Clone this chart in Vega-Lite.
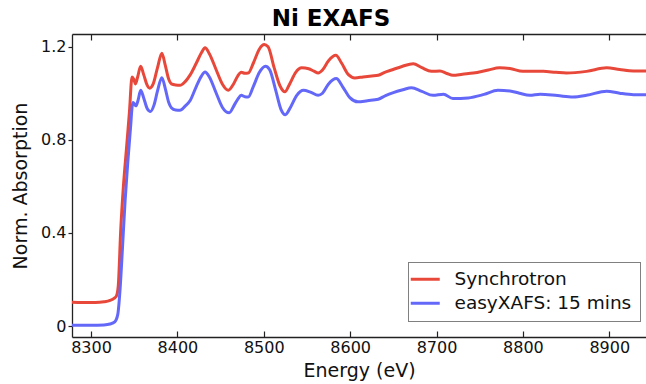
{
  "$schema": "https://vega.github.io/schema/vega-lite/v6.json",
  "width": 574,
  "height": 303,
  "autosize": {"type": "none"},
  "padding": {"left": 72, "top": 34, "right": 0, "bottom": 47},
  "background": "white",
  "title": {
    "text": "Ni EXAFS",
    "font": "DejaVu Sans",
    "fontSize": 23,
    "fontWeight": "bold",
    "color": "#000000",
    "anchor": "middle",
    "dx": -28,
    "offset": 2
  },
  "config": {
    "view": {"stroke": null},
    "font": "DejaVu Sans",
    "axis": {
      "grid": false,
      "domainColor": "#222222",
      "tickColor": "#222222",
      "domainWidth": 1.3,
      "tickWidth": 1.2,
      "labelColor": "#111111",
      "titleColor": "#111111",
      "labelFont": "DejaVu Sans",
      "titleFont": "DejaVu Sans",
      "labelFontSize": 16,
      "titleFontSize": 19,
      "titleFontWeight": "normal"
    },
    "legend": {
      "strokeColor": "#000000",
      "strokeDash": [1, 1],
      "strokeWidth": 1,
      "fillColor": "white",
      "padding": 8,
      "symbolStrokeWidth": 3,
      "labelFont": "DejaVu Sans",
      "labelFontSize": 18.5,
      "labelColor": "#111111",
      "labelLimit": 400,
      "rowPadding": 5
    }
  },
  "data": {
    "values": [
      {"series": "Synchrotron", "energy": 8278, "absorption": 0.102},
      {"series": "Synchrotron", "energy": 8290, "absorption": 0.101},
      {"series": "Synchrotron", "energy": 8305, "absorption": 0.101},
      {"series": "Synchrotron", "energy": 8315, "absorption": 0.104},
      {"series": "Synchrotron", "energy": 8322, "absorption": 0.11},
      {"series": "Synchrotron", "energy": 8327, "absorption": 0.12},
      {"series": "Synchrotron", "energy": 8329.5, "absorption": 0.13},
      {"series": "Synchrotron", "energy": 8331.5, "absorption": 0.17},
      {"series": "Synchrotron", "energy": 8334.5, "absorption": 0.42},
      {"series": "Synchrotron", "energy": 8337.5, "absorption": 0.6},
      {"series": "Synchrotron", "energy": 8341, "absorption": 0.76},
      {"series": "Synchrotron", "energy": 8344.5, "absorption": 0.92},
      {"series": "Synchrotron", "energy": 8347.5, "absorption": 1.07},
      {"series": "Synchrotron", "energy": 8349.5, "absorption": 1.06},
      {"series": "Synchrotron", "energy": 8351.5, "absorption": 1.04},
      {"series": "Synchrotron", "energy": 8354, "absorption": 1.07},
      {"series": "Synchrotron", "energy": 8357.5, "absorption": 1.116},
      {"series": "Synchrotron", "energy": 8361, "absorption": 1.08},
      {"series": "Synchrotron", "energy": 8365, "absorption": 1.035},
      {"series": "Synchrotron", "energy": 8368, "absorption": 1.022},
      {"series": "Synchrotron", "energy": 8372, "absorption": 1.04},
      {"series": "Synchrotron", "energy": 8377, "absorption": 1.11},
      {"series": "Synchrotron", "energy": 8382, "absorption": 1.172},
      {"series": "Synchrotron", "energy": 8386, "absorption": 1.12},
      {"series": "Synchrotron", "energy": 8390, "absorption": 1.06},
      {"series": "Synchrotron", "energy": 8393, "absorption": 1.04},
      {"series": "Synchrotron", "energy": 8398, "absorption": 1.035},
      {"series": "Synchrotron", "energy": 8403, "absorption": 1.034},
      {"series": "Synchrotron", "energy": 8409, "absorption": 1.05},
      {"series": "Synchrotron", "energy": 8415, "absorption": 1.08},
      {"series": "Synchrotron", "energy": 8422, "absorption": 1.13},
      {"series": "Synchrotron", "energy": 8428, "absorption": 1.175},
      {"series": "Synchrotron", "energy": 8432, "absorption": 1.195},
      {"series": "Synchrotron", "energy": 8437, "absorption": 1.17},
      {"series": "Synchrotron", "energy": 8445, "absorption": 1.1},
      {"series": "Synchrotron", "energy": 8452, "absorption": 1.04},
      {"series": "Synchrotron", "energy": 8459, "absorption": 1.013},
      {"series": "Synchrotron", "energy": 8465, "absorption": 1.04},
      {"series": "Synchrotron", "energy": 8470, "absorption": 1.075},
      {"series": "Synchrotron", "energy": 8474, "absorption": 1.09},
      {"series": "Synchrotron", "energy": 8478, "absorption": 1.086},
      {"series": "Synchrotron", "energy": 8482, "absorption": 1.087},
      {"series": "Synchrotron", "energy": 8488, "absorption": 1.13},
      {"series": "Synchrotron", "energy": 8495, "absorption": 1.19},
      {"series": "Synchrotron", "energy": 8500.5, "absorption": 1.209},
      {"series": "Synchrotron", "energy": 8505, "absorption": 1.2},
      {"series": "Synchrotron", "energy": 8512, "absorption": 1.11},
      {"series": "Synchrotron", "energy": 8519, "absorption": 1.03},
      {"series": "Synchrotron", "energy": 8524.5, "absorption": 1.006},
      {"series": "Synchrotron", "energy": 8530, "absorption": 1.04},
      {"series": "Synchrotron", "energy": 8537, "absorption": 1.09},
      {"series": "Synchrotron", "energy": 8544, "absorption": 1.109},
      {"series": "Synchrotron", "energy": 8552, "absorption": 1.105},
      {"series": "Synchrotron", "energy": 8558, "absorption": 1.095},
      {"series": "Synchrotron", "energy": 8563, "absorption": 1.087},
      {"series": "Synchrotron", "energy": 8568, "absorption": 1.1},
      {"series": "Synchrotron", "energy": 8575, "absorption": 1.14},
      {"series": "Synchrotron", "energy": 8583.5, "absorption": 1.163},
      {"series": "Synchrotron", "energy": 8590, "absorption": 1.13},
      {"series": "Synchrotron", "energy": 8598, "absorption": 1.08},
      {"series": "Synchrotron", "energy": 8605.5, "absorption": 1.066},
      {"series": "Synchrotron", "energy": 8615, "absorption": 1.07},
      {"series": "Synchrotron", "energy": 8625, "absorption": 1.074},
      {"series": "Synchrotron", "energy": 8632.5, "absorption": 1.077},
      {"series": "Synchrotron", "energy": 8640, "absorption": 1.09},
      {"series": "Synchrotron", "energy": 8648, "absorption": 1.1},
      {"series": "Synchrotron", "energy": 8660, "absorption": 1.115},
      {"series": "Synchrotron", "energy": 8673, "absorption": 1.127},
      {"series": "Synchrotron", "energy": 8683, "absorption": 1.11},
      {"series": "Synchrotron", "energy": 8694, "absorption": 1.094},
      {"series": "Synchrotron", "energy": 8704, "absorption": 1.096},
      {"series": "Synchrotron", "energy": 8712, "absorption": 1.085},
      {"series": "Synchrotron", "energy": 8719, "absorption": 1.077},
      {"series": "Synchrotron", "energy": 8730, "absorption": 1.082},
      {"series": "Synchrotron", "energy": 8742.5, "absorption": 1.087},
      {"series": "Synchrotron", "energy": 8760, "absorption": 1.1},
      {"series": "Synchrotron", "energy": 8773, "absorption": 1.109},
      {"series": "Synchrotron", "energy": 8785, "absorption": 1.106},
      {"series": "Synchrotron", "energy": 8800, "absorption": 1.094},
      {"series": "Synchrotron", "energy": 8823.5, "absorption": 1.094},
      {"series": "Synchrotron", "energy": 8838, "absorption": 1.09},
      {"series": "Synchrotron", "energy": 8850.5, "absorption": 1.087},
      {"series": "Synchrotron", "energy": 8873.7, "absorption": 1.094},
      {"series": "Synchrotron", "energy": 8897, "absorption": 1.109},
      {"series": "Synchrotron", "energy": 8912, "absorption": 1.102},
      {"series": "Synchrotron", "energy": 8928, "absorption": 1.096},
      {"series": "Synchrotron", "energy": 8942.5, "absorption": 1.096},
      {"series": "easyXAFS: 15 mins", "energy": 8278, "absorption": 0.003},
      {"series": "easyXAFS: 15 mins", "energy": 8300, "absorption": 0.003},
      {"series": "easyXAFS: 15 mins", "energy": 8315, "absorption": 0.005},
      {"series": "easyXAFS: 15 mins", "energy": 8322, "absorption": 0.009},
      {"series": "easyXAFS: 15 mins", "energy": 8327.5, "absorption": 0.018},
      {"series": "easyXAFS: 15 mins", "energy": 8331, "absorption": 0.05},
      {"series": "easyXAFS: 15 mins", "energy": 8333.5, "absorption": 0.15},
      {"series": "easyXAFS: 15 mins", "energy": 8336.5, "absorption": 0.34},
      {"series": "easyXAFS: 15 mins", "energy": 8339.5, "absorption": 0.54},
      {"series": "easyXAFS: 15 mins", "energy": 8342.5, "absorption": 0.7},
      {"series": "easyXAFS: 15 mins", "energy": 8345.5, "absorption": 0.84},
      {"series": "easyXAFS: 15 mins", "energy": 8348.5, "absorption": 0.96},
      {"series": "easyXAFS: 15 mins", "energy": 8350, "absorption": 0.955},
      {"series": "easyXAFS: 15 mins", "energy": 8352, "absorption": 0.946},
      {"series": "easyXAFS: 15 mins", "energy": 8354.5, "absorption": 0.97},
      {"series": "easyXAFS: 15 mins", "energy": 8357.5, "absorption": 1.013},
      {"series": "easyXAFS: 15 mins", "energy": 8361, "absorption": 0.98},
      {"series": "easyXAFS: 15 mins", "energy": 8365, "absorption": 0.935},
      {"series": "easyXAFS: 15 mins", "energy": 8369, "absorption": 0.922},
      {"series": "easyXAFS: 15 mins", "energy": 8373, "absorption": 0.95},
      {"series": "easyXAFS: 15 mins", "energy": 8377, "absorption": 1.01},
      {"series": "easyXAFS: 15 mins", "energy": 8382, "absorption": 1.067},
      {"series": "easyXAFS: 15 mins", "energy": 8386, "absorption": 1.02},
      {"series": "easyXAFS: 15 mins", "energy": 8390, "absorption": 0.96},
      {"series": "easyXAFS: 15 mins", "energy": 8393, "absorption": 0.938},
      {"series": "easyXAFS: 15 mins", "energy": 8398, "absorption": 0.928},
      {"series": "easyXAFS: 15 mins", "energy": 8403, "absorption": 0.927},
      {"series": "easyXAFS: 15 mins", "energy": 8409, "absorption": 0.945},
      {"series": "easyXAFS: 15 mins", "energy": 8415, "absorption": 0.97},
      {"series": "easyXAFS: 15 mins", "energy": 8422, "absorption": 1.03},
      {"series": "easyXAFS: 15 mins", "energy": 8428, "absorption": 1.075},
      {"series": "easyXAFS: 15 mins", "energy": 8432, "absorption": 1.091},
      {"series": "easyXAFS: 15 mins", "energy": 8437, "absorption": 1.07},
      {"series": "easyXAFS: 15 mins", "energy": 8445, "absorption": 1.0},
      {"series": "easyXAFS: 15 mins", "energy": 8452, "absorption": 0.94},
      {"series": "easyXAFS: 15 mins", "energy": 8460, "absorption": 0.916},
      {"series": "easyXAFS: 15 mins", "energy": 8466, "absorption": 0.95},
      {"series": "easyXAFS: 15 mins", "energy": 8470, "absorption": 0.975},
      {"series": "easyXAFS: 15 mins", "energy": 8474, "absorption": 0.991},
      {"series": "easyXAFS: 15 mins", "energy": 8478, "absorption": 0.985},
      {"series": "easyXAFS: 15 mins", "energy": 8482, "absorption": 0.984},
      {"series": "easyXAFS: 15 mins", "energy": 8488, "absorption": 1.03},
      {"series": "easyXAFS: 15 mins", "energy": 8495, "absorption": 1.09},
      {"series": "easyXAFS: 15 mins", "energy": 8502, "absorption": 1.116},
      {"series": "easyXAFS: 15 mins", "energy": 8507, "absorption": 1.1},
      {"series": "easyXAFS: 15 mins", "energy": 8514, "absorption": 1.01},
      {"series": "easyXAFS: 15 mins", "energy": 8520, "absorption": 0.93},
      {"series": "easyXAFS: 15 mins", "energy": 8525, "absorption": 0.908},
      {"series": "easyXAFS: 15 mins", "energy": 8531, "absorption": 0.94},
      {"series": "easyXAFS: 15 mins", "energy": 8538, "absorption": 0.99},
      {"series": "easyXAFS: 15 mins", "energy": 8546, "absorption": 1.013},
      {"series": "easyXAFS: 15 mins", "energy": 8554, "absorption": 1.005},
      {"series": "easyXAFS: 15 mins", "energy": 8563, "absorption": 0.991},
      {"series": "easyXAFS: 15 mins", "energy": 8568, "absorption": 1.0},
      {"series": "easyXAFS: 15 mins", "energy": 8575, "absorption": 1.04},
      {"series": "easyXAFS: 15 mins", "energy": 8584, "absorption": 1.063},
      {"series": "easyXAFS: 15 mins", "energy": 8591, "absorption": 1.03},
      {"series": "easyXAFS: 15 mins", "energy": 8600, "absorption": 0.98},
      {"series": "easyXAFS: 15 mins", "energy": 8609, "absorption": 0.963},
      {"series": "easyXAFS: 15 mins", "energy": 8620, "absorption": 0.968},
      {"series": "easyXAFS: 15 mins", "energy": 8632.5, "absorption": 0.974},
      {"series": "easyXAFS: 15 mins", "energy": 8641, "absorption": 0.99},
      {"series": "easyXAFS: 15 mins", "energy": 8650, "absorption": 1.003},
      {"series": "easyXAFS: 15 mins", "energy": 8661, "absorption": 1.015},
      {"series": "easyXAFS: 15 mins", "energy": 8671, "absorption": 1.024},
      {"series": "easyXAFS: 15 mins", "energy": 8683, "absorption": 1.008},
      {"series": "easyXAFS: 15 mins", "energy": 8696, "absorption": 0.991},
      {"series": "easyXAFS: 15 mins", "energy": 8708, "absorption": 0.996},
      {"series": "easyXAFS: 15 mins", "energy": 8719, "absorption": 0.977},
      {"series": "easyXAFS: 15 mins", "energy": 8736.7, "absorption": 0.98},
      {"series": "easyXAFS: 15 mins", "energy": 8755, "absorption": 0.995},
      {"series": "easyXAFS: 15 mins", "energy": 8771, "absorption": 1.013},
      {"series": "easyXAFS: 15 mins", "energy": 8785, "absorption": 1.01},
      {"series": "easyXAFS: 15 mins", "energy": 8796, "absorption": 1.0},
      {"series": "easyXAFS: 15 mins", "energy": 8808, "absorption": 0.991},
      {"series": "easyXAFS: 15 mins", "energy": 8820, "absorption": 0.996},
      {"series": "easyXAFS: 15 mins", "energy": 8840, "absorption": 0.99},
      {"series": "easyXAFS: 15 mins", "energy": 8858, "absorption": 0.984},
      {"series": "easyXAFS: 15 mins", "energy": 8873.7, "absorption": 0.991},
      {"series": "easyXAFS: 15 mins", "energy": 8897, "absorption": 1.009},
      {"series": "easyXAFS: 15 mins", "energy": 8912, "absorption": 1.0},
      {"series": "easyXAFS: 15 mins", "energy": 8928, "absorption": 0.994},
      {"series": "easyXAFS: 15 mins", "energy": 8942.5, "absorption": 0.994}
    ]
  },
  "layer": [
    {
      "mark": {"type": "line", "strokeWidth": 0, "opacity": 0},
      "encoding": {
        "x": {
          "field": "energy",
          "type": "quantitative",
          "scale": {"domain": [8278, 8942.5], "nice": false, "zero": false},
          "axis": {
            "orient": "top",
            "title": null,
            "labels": false,
            "values": [8300, 8400, 8500, 8600, 8700, 8800, 8900],
            "tickSize": -6
          }
        },
        "y": {
          "field": "absorption",
          "type": "quantitative",
          "scale": {"domain": [-0.047, 1.2545], "nice": false, "zero": false}
        },
        "detail": {"field": "series", "type": "nominal"}
      }
    },
    {
      "mark": {"type": "line", "strokeWidth": 3, "interpolate": "monotone", "clip": true},
      "encoding": {
        "x": {
          "field": "energy",
          "type": "quantitative",
          "scale": {"domain": [8278, 8942.5], "nice": false, "zero": false},
          "axis": {
            "orient": "bottom",
            "title": "Energy (eV)",
            "values": [8300, 8400, 8500, 8600, 8700, 8800, 8900],
            "format": "d",
            "tickSize": -6,
            "labelPadding": 8,
            "titlePadding": 6
          }
        },
        "y": {
          "field": "absorption",
          "type": "quantitative",
          "scale": {"domain": [-0.047, 1.2545], "nice": false, "zero": false},
          "axis": {
            "title": "Norm. Absorption",
            "values": [0, 0.4, 0.8, 1.2],
            "labelExpr": "datum.value == 0 ? '0' : format(datum.value, '.1f')",
            "tickSize": 4,
            "labelPadding": 2,
            "titlePadding": 10
          }
        },
        "color": {
          "field": "series",
          "type": "nominal",
          "scale": {
            "domain": ["Synchrotron", "easyXAFS: 15 mins"],
            "range": ["#e8483a", "#6468f8"]
          },
          "legend": {
            "title": null,
            "orient": "none",
            "legendX": 336,
            "legendY": 228,
            "symbolType": "M-2.9,0H2.9",
            "symbolSize": 100,
            "labelOffset": 20
          }
        }
      }
    }
  ],
  "resolve": {"axis": {"x": "independent"}}
}
